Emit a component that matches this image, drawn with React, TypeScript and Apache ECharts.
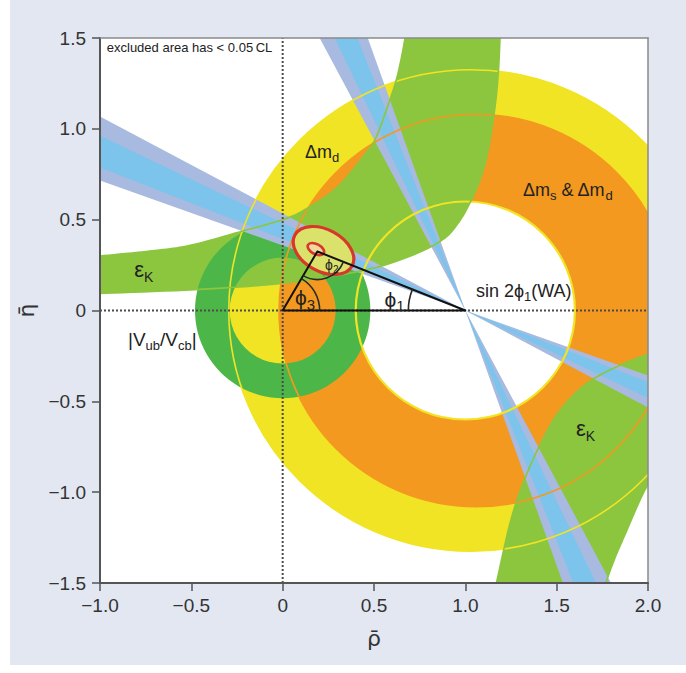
import React, { useEffect, useRef } from "react";
import * as echarts from "echarts";

// ---------- axes ----------
const X_MIN = -1;
const X_MAX = 2;
const Y_MIN = -1.5;
const Y_MAX = 1.5;
const TICK_STEP = 0.5;

// ---------- constraint regions ----------
// discs: [centre rho, centre eta, radius]
const dmdDisc = [1.03, 0, 1.325]; // Δm_d (yellow)
const dmsDisc = [1.06, 0, 1.08]; // Δm_s & Δm_d (orange)
const dmHole = [1.0, 0, 0.6]; // excluded hole of both rings
// |Vub/Vcb| ring: [centre rho, centre eta, inner r, outer r]
const vubRing = [0, 0, 0.29, 0.48];

// ε_K band, upper branch edges
const epsKUpperEdgeHigh = [
  [-1.05, 0.295], [-1.0, 0.3], [-0.7, 0.33], [-0.5, 0.36], [-0.21, 0.44], [0, 0.5],
  [0.13, 0.56], [0.3, 0.68], [0.45, 0.86], [0.51, 0.95], [0.58, 1.14], [0.63, 1.3],
  [0.67, 1.5], [0.685, 1.62],
];
const epsKUpperEdgeLow = [
  [-1.05, 0.092], [-1.0, 0.094], [-0.48, 0.115], [0, 0.15], [0.44, 0.22], [0.7, 0.3],
  [0.876, 0.39], [0.96, 0.48], [1.024, 0.59], [1.08, 0.72], [1.12, 0.86], [1.16, 1.1],
  [1.18, 1.3], [1.19, 1.5], [1.195, 1.62],
];
// ε_K band, lower branch edges
const epsKLowerEdgeInner = [
  [1.145, -1.6], [1.17, -1.5], [1.25, -1.15], [1.336, -0.9], [1.46, -0.64], [1.56, -0.5],
  [1.68, -0.39], [1.85, -0.3], [1.99, -0.245], [2.06, -0.225],
];
const epsKLowerEdgeOuter = [
  [1.75, -1.6], [1.77, -1.5], [1.82, -1.36], [1.88, -1.22], [1.94, -1.08], [1.99, -0.975],
  [2.06, -0.86],
];

// sin 2φ1 wedges through the apex (1,0): direction angles in degrees
const sin2phi1Apex = [1, 0];
const sin2phi1OuterDeg = [
  [151.9, 160.3],
  [109.6, 118.0],
];
const sin2phi1InnerDeg = [
  [154.3, 158.5],
  [111.5, 115.5],
];

// fit contours: [centre rho, centre eta, semi-major, semi-minor, tilt deg]
const fitOuter = [0.2235, 0.33, 0.178, 0.115, 28.5];
const fitInner = [0.182, 0.338, 0.049, 0.0275, 28];

// unitarity triangle vertices: origin, (1,0), apex
const triangleVertices = [
  [0, 0],
  [1, 0],
  [0.19, 0.325],
];

// ---------- labels ----------
type Lab = { at: number[]; size: number; sub: number; parts: [string, number][] };
const labelTexts: Lab[] = [
  { at: [0.122, 0.872], size: 18, sub: 13, parts: [["Δm", 0], ["d", 1]] },
  { at: [1.316, 0.662], size: 18, sub: 13, parts: [["Δm", 0], ["s", 1], [" & Δm", 0], ["d", 1]] },
  { at: [-0.813, 0.223], size: 22, sub: 14, parts: [["ε", 0], ["K", 1]] },
  { at: [1.606, -0.652], size: 22, sub: 14, parts: [["ε", 0], ["K", 1]] },
  { at: [-0.847, -0.157], size: 19, sub: 13, parts: [["|V", 0], ["ub", 1], ["/V", 0], ["cb", 1], ["|", 0]] },
  { at: [1.058, 0.108], size: 18, sub: 13, parts: [["sin 2\u03D5", 0], ["1", 1], ["(WA)", 0]] },
  { at: [0.068, 0.069], size: 21, sub: 15, parts: [["\u03D5", 0], ["3", 1]] },
  { at: [0.557, 0.063], size: 21, sub: 15, parts: [["\u03D5", 0], ["1", 1]] },
  { at: [0.232, 0.25], size: 14, sub: 10, parts: [["\u03D5", 0], ["2", 1]] },
  { at: [-0.963, 1.445], size: 13, sub: 0, parts: [["excluded area has < 0.05\u2009CL", 0]] },
];

const FONT = '"Liberation Sans", Arial, sans-serif';
const COL = {
  yellow: "#f1e424",
  orange: "#f4991f",
  lightGreen: "#8cc63f",
  darkGreen: "#4cb748",
  lavender: "#a8badf",
  blue: "#7cc4ec",
  red: "#d8372a",
  fitFill: "#dbe26c",
  fitInnerFill: "#f0d99c",
  text: "#222",
};

let measureCtx: CanvasRenderingContext2D | null = null;
function measure(text: string, size: number): number {
  if (!measureCtx) measureCtx = document.createElement("canvas").getContext("2d");
  if (!measureCtx) return text.length * size * 0.5;
  measureCtx.font = `${size}px ${FONT}`;
  return measureCtx.measureText(text).width;
}

function catmull(pts: number[][], seg = 10): number[][] {
  const out: number[][] = [];
  const n = pts.length;
  for (let i = 0; i < n - 1; i++) {
    const p0 = pts[Math.max(i - 1, 0)];
    const p1 = pts[i];
    const p2 = pts[i + 1];
    const p3 = pts[Math.min(i + 2, n - 1)];
    for (let k = 0; k < seg; k++) {
      const t = k / seg;
      const t2 = t * t;
      const t3 = t2 * t;
      out.push(
        [0, 1].map(
          (d) =>
            0.5 *
            (2 * p1[d] +
              (-p0[d] + p2[d]) * t +
              (2 * p0[d] - 5 * p1[d] + 4 * p2[d] - p3[d]) * t2 +
              (-p0[d] + 3 * p1[d] - 3 * p2[d] + p3[d]) * t3)
        )
      );
    }
  }
  out.push(pts[n - 1]);
  return out;
}

function discSeries(disc: number[], style: any, z: number) {
  return {
    type: "custom",
    z,
    clip: true,
    silent: true,
    data: [disc],
    encode: { x: 0, y: 1 },
    renderItem: (_p: any, api: any) => {
      const c = api.coord([api.value(0), api.value(1)]);
      const s = api.size([api.value(2), api.value(2)]);
      return { type: "ellipse", shape: { cx: c[0], cy: c[1], rx: s[0], ry: s[1] }, style };
    },
  };
}

function bandSeries(edges: number[][][][], fill: string, z: number) {
  return {
    type: "custom",
    z,
    clip: true,
    silent: true,
    data: edges.map((e, i) => [e[0][0][0], e[0][0][1], i]),
    encode: { x: 0, y: 1 },
    renderItem: (params: any, api: any) => {
      const [a, b] = edges[params.dataIndex];
      const pa = catmull(a.map((p) => api.coord(p)));
      const pb = catmull(b.map((p) => api.coord(p)));
      return { type: "polygon", shape: { points: pa.concat(pb.reverse()) }, style: { fill } };
    },
  };
}

function edgeLineSeries(lines: number[][][], stroke: string, width: number, z: number) {
  return {
    type: "custom",
    z,
    clip: true,
    silent: true,
    data: lines.map((l, i) => [l[0][0], l[0][1], i]),
    encode: { x: 0, y: 1 },
    renderItem: (params: any, api: any) => {
      const pts = catmull(lines[params.dataIndex].map((p) => api.coord(p)));
      return { type: "polyline", shape: { points: pts }, style: { stroke, lineWidth: width, fill: "none" } };
    },
  };
}

function wedgeSeries(angles: number[][], fill: string, z: number) {
  return {
    type: "custom",
    z,
    clip: true,
    silent: true,
    data: angles.map((_a, i) => [sin2phi1Apex[0], sin2phi1Apex[1], i]),
    encode: { x: 0, y: 1 },
    renderItem: (params: any, api: any) => {
      const [a1, a2] = angles[params.dataIndex];
      const L = 5;
      const pt = (deg: number) =>
        api.coord([
          sin2phi1Apex[0] + L * Math.cos((deg * Math.PI) / 180),
          sin2phi1Apex[1] + L * Math.sin((deg * Math.PI) / 180),
        ]);
      const c = api.coord(sin2phi1Apex);
      return {
        type: "polygon",
        shape: { points: [c, pt(a1), pt(a2), c, pt(a1 + 180), pt(a2 + 180)] },
        style: { fill },
      };
    },
  };
}

function contourSeries(e: number[], fill: string, lineWidth: number, z: number) {
  return {
    type: "custom",
    z,
    clip: true,
    silent: true,
    data: [e],
    encode: { x: 0, y: 1 },
    renderItem: (_p: any, api: any) => {
      const c = api.coord([api.value(0), api.value(1)]);
      const rx = api.size([api.value(2), 0])[0];
      const ry = api.size([0, api.value(3)])[1];
      return {
        type: "ellipse",
        x: c[0],
        y: c[1],
        rotation: (-api.value(4) * Math.PI) / 180,
        shape: { cx: 0, cy: 0, rx, ry },
        style: { fill, stroke: COL.red, lineWidth },
      };
    },
  };
}

const fmt = (v: number) => (v === 0 ? "0" : (v < 0 ? "\u2212" : "") + Math.abs(v).toFixed(1));

export default function App() {
  const ref = useRef<HTMLDivElement>(null);
  useEffect(() => {
    if (!ref.current) return;
    const chart = echarts.init(ref.current, undefined, { renderer: "svg" });
    const axisCommon = {
      type: "value",
      interval: TICK_STEP,
      splitLine: { show: false },
    };
    const option: any = {
      animation: false,
      grid: {
        left: 100,
        right: 38,
        top: 38,
        bottom: 90,
        show: true,
        backgroundColor: "#ffffff",
        borderWidth: 0,
      },
      xAxis: [
        {
          ...axisCommon,
          min: X_MIN,
          max: X_MAX,
          position: "bottom",
          z: 30,
          axisLine: { onZero: false, lineStyle: { color: "#555", width: 2 } },
          axisTick: { show: true, inside: false, length: 8, lineStyle: { color: "#555", width: 1.5 } },
          axisLabel: { formatter: fmt, fontSize: 19, color: "#333", margin: 13, fontFamily: FONT },
          name: "\u03C1\u0304",
          nameLocation: "middle",
          nameGap: 44,
          nameTextStyle: { fontSize: 22, color: "#333", fontFamily: "DejaVu Sans, sans-serif" },
        },
        {
          ...axisCommon,
          min: X_MIN,
          max: X_MAX,
          position: "top",
          z: 30,
          axisLine: { onZero: false, lineStyle: { color: "#8a8a8a", width: 1.5 } },
          axisTick: { show: false },
          axisLabel: { show: false },
        },
      ],
      yAxis: [
        {
          ...axisCommon,
          min: Y_MIN,
          max: Y_MAX,
          position: "left",
          z: 30,
          axisLine: { onZero: false, lineStyle: { color: "#555", width: 2 } },
          axisTick: { show: true, inside: false, length: 8, lineStyle: { color: "#555", width: 1.5 } },
          axisLabel: { formatter: fmt, fontSize: 19, color: "#333", margin: 14, fontFamily: FONT },
          name: "\u03B7\u0304",
          nameLocation: "middle",
          nameGap: 58,
          nameRotate: 90,
          nameTextStyle: { fontSize: 22, color: "#333", fontFamily: "DejaVu Sans, sans-serif" },
        },
        {
          ...axisCommon,
          min: Y_MIN,
          max: Y_MAX,
          position: "right",
          z: 30,
          axisLine: { onZero: false, lineStyle: { color: "#8a8a8a", width: 1.5 } },
          axisTick: { show: false },
          axisLabel: { show: false },
        },
      ],
      series: [
        discSeries(dmdDisc, { fill: COL.yellow }, 2),
        discSeries(dmsDisc, { fill: COL.orange }, 3),
        discSeries(dmHole, { fill: "#ffffff" }, 4),
        bandSeries(
          [
            [epsKUpperEdgeHigh, epsKUpperEdgeLow],
            [epsKLowerEdgeInner, epsKLowerEdgeOuter],
          ],
          COL.lightGreen,
          5
        ),
        {
          type: "custom",
          z: 6,
          clip: true,
          silent: true,
          data: [vubRing],
          encode: { x: 0, y: 1 },
          renderItem: (_p: any, api: any) => {
            const c = api.coord([api.value(0), api.value(1)]);
            const r0 = api.size([api.value(2), 0])[0];
            const r = api.size([api.value(3), 0])[0];
            return { type: "ring", shape: { cx: c[0], cy: c[1], r, r0 }, style: { fill: COL.darkGreen } };
          },
        },
        wedgeSeries(sin2phi1OuterDeg, COL.lavender, 7),
        wedgeSeries(sin2phi1InnerDeg, COL.blue, 8),
        discSeries(dmdDisc, { fill: "none", stroke: COL.yellow, lineWidth: 1.6 }, 9),
        discSeries(dmsDisc, { fill: "none", stroke: COL.orange, lineWidth: 1.6 }, 9),
        discSeries(dmHole, { fill: "none", stroke: COL.yellow, lineWidth: 2.2 }, 9),
        edgeLineSeries(
          [epsKUpperEdgeHigh, epsKUpperEdgeLow, epsKLowerEdgeInner, epsKLowerEdgeOuter],
          COL.lightGreen,
          1.6,
          9
        ),
        // dotted zero lines
        {
          type: "custom",
          z: 10,
          clip: true,
          silent: true,
          data: [[0, 0]],
          encode: { x: 0, y: 1 },
          renderItem: (_p: any, api: any) => {
            const s = { stroke: "#4a4a4a", lineWidth: 2, lineDash: [2, 2] };
            const v0 = api.coord([0, Y_MIN]);
            const v1 = api.coord([0, Y_MAX]);
            const h0 = api.coord([X_MIN, 0]);
            const h1 = api.coord([X_MAX, 0]);
            return {
              type: "group",
              children: [
                { type: "line", shape: { x1: v0[0], y1: v0[1], x2: v1[0], y2: v1[1] }, style: s },
                { type: "line", shape: { x1: h0[0], y1: h0[1], x2: h1[0], y2: h1[1] }, style: s },
              ],
            };
          },
        },
        contourSeries(fitOuter, COL.fitFill, 3.2, 11),
        contourSeries(fitInner, COL.fitInnerFill, 2.6, 12),
        // unitarity triangle with angle arcs
        {
          type: "custom",
          z: 13,
          clip: true,
          silent: true,
          data: triangleVertices,
          encode: { x: 0, y: 1 },
          renderItem: (params: any, api: any) => {
            if (params.dataIndex !== 0) return null;
            const [O, B, A] = triangleVertices.map((v) => api.coord(v));
            const ang = (p: number[], q: number[]) => Math.atan2(q[1] - p[1], q[0] - p[0]);
            let bA = ang(B, A);
            if (bA < Math.PI) bA += 2 * Math.PI;
            const arcStyle = { stroke: "#2a2a2a", lineWidth: 1.6, fill: "none" };
            return {
              type: "group",
              children: [
                {
                  type: "polygon",
                  shape: { points: [O, B, A] },
                  style: { stroke: "#111", lineWidth: 2, fill: "none", lineJoin: "round" },
                },
                {
                  type: "arc",
                  shape: { cx: O[0], cy: O[1], r: 37, startAngle: ang(O, A), endAngle: 0, clockwise: true },
                  style: arcStyle,
                },
                {
                  type: "arc",
                  shape: { cx: B[0], cy: B[1], r: 57, startAngle: Math.PI, endAngle: bA, clockwise: true },
                  style: arcStyle,
                },
                {
                  type: "arc",
                  shape: { cx: A[0], cy: A[1], r: 28, startAngle: ang(A, B), endAngle: ang(A, O), clockwise: true },
                  style: arcStyle,
                },
              ],
            };
          },
        },
        // text labels
        {
          type: "custom",
          z: 14,
          clip: false,
          silent: true,
          data: labelTexts.map((l) => [l.at[0], l.at[1]]),
          encode: { x: 0, y: 1 },
          renderItem: (params: any, api: any) => {
            const lab = labelTexts[params.dataIndex];
            const p = api.coord([api.value(0), api.value(1)]);
            let x = p[0];
            const children: any[] = [];
            lab.parts.forEach(([t, isSub]) => {
              const size = isSub ? lab.sub : lab.size;
              children.push({
                type: "text",
                x,
                y: isSub ? p[1] + lab.size * 0.32 : p[1],
                style: {
                  text: t,
                  font: `${size}px ${FONT}`,
                  fill: COL.text,
                  align: "left",
                  verticalAlign: "middle",
                },
              });
              x += measure(t, size);
            });
            return { type: "group", children };
          },
        },
      ],
    };
    chart.setOption(option);
    return () => chart.dispose();
  }, []);

  return (
    <div style={{ position: "absolute", left: 0, top: 0, width: 686, height: 673, background: "#ffffff" }}>
      <div
        style={{ position: "absolute", left: 10, top: 0, width: 676, height: 665, background: "#e2e7f2" }}
      />
      <div ref={ref} style={{ position: "absolute", left: 0, top: 0, width: 686, height: 673 }} />
    </div>
  );
}
